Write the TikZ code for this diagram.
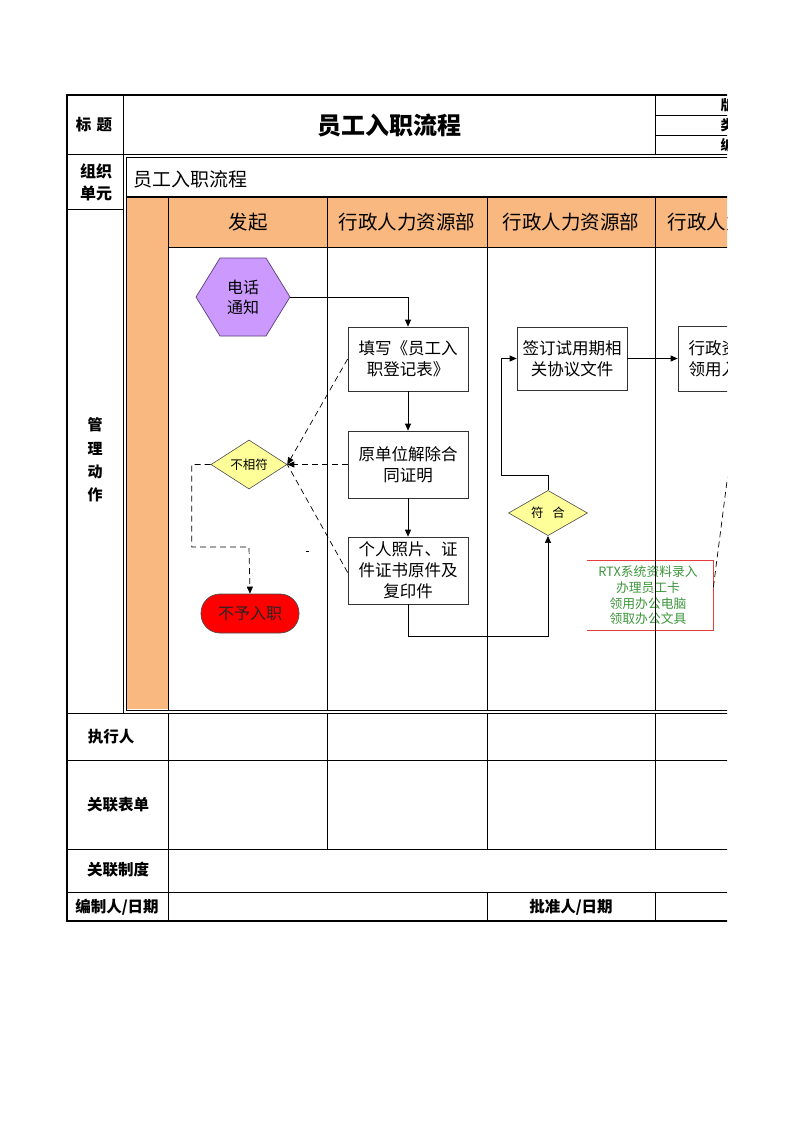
\documentclass[tikz,border=0pt]{standalone}
\usepackage{fontspec}
\newfontfamily\cjk{Noto Sans CJK SC}
\usetikzlibrary{arrows.meta,shapes.geometric,calc}
\definecolor{org}{RGB}{248,184,128}
\definecolor{purp}{RGB}{204,153,255}
\definecolor{purpline}{RGB}{90,60,120}
\definecolor{ylw}{RGB}{255,255,153}
\definecolor{rtxgreen}{RGB}{60,150,60}
\definecolor{rtxred}{RGB}{230,60,60}
\begin{document}
\begin{tikzpicture}[x=1pt,y=-1pt,line width=0.8pt,
  every node/.style={font=\cjk},
  thickframe/.style={line width=2pt},
  lbl/.style={font=\cjk\bfseries\fontsize{15.5}{20}\selectfont, align=center},
  lane/.style={font=\cjk\fontsize{19.5}{23}\selectfont},
  procbox/.style={draw=black!80, line width=0.7pt, fill=white, minimum width=120, minimum height=64, inner sep=2pt, align=center, font=\cjk\fontsize{16.5}{21}\selectfont},
  decision/.style={diamond, draw=black!70, line width=0.6pt, fill=ylw, inner sep=0pt, font=\cjk\fontsize{12.5}{14}\selectfont},
  arr/.style={-{Triangle[length=7pt,width=6pt]}, line width=0.7pt},
  darr/.style={-{Triangle[length=7pt,width=6pt]}, line width=0.7pt, dash pattern=on 6pt off 4pt},
  dline/.style={line width=0.7pt, dash pattern=on 6pt off 4pt}]
\useasboundingbox (0,0) rectangle (793,1122);
\begin{scope}
\clip (0,0) rectangle (727,1122);
% fills
\fill[org] (127,197) rectangle (745,247);
\fill[org] (127,247) rectangle (168,709);
% outer frame
\draw[thickframe] (66,95) -- (745,95);
\draw[thickframe] (67,94) -- (67,922);
\draw[thickframe] (66,921) -- (745,921);
% header grid
\draw (123,95) -- (123,713);
\draw (655,95) -- (655,154);
\draw (655,115) -- (745,115);
\draw (655,135) -- (745,135);
\draw (67,154) -- (745,154);
\draw (67,209) -- (123,209);
% inner frame
\draw (126,157) rectangle (750,710);
\draw[line width=1.4pt] (126,197) -- (745,197);
\draw (168,247) -- (745,247);
\foreach \x in {168,327,487,655} \draw (\x,197) -- (\x,710);
% bottom grid
\draw (67,713) -- (745,713);
\draw (67,760) -- (745,760);
\draw (67,849) -- (745,849);
\draw (67,892) -- (745,892);
\draw (168,713) -- (168,921);
\foreach \x in {327,487,655} \draw (\x,713) -- (\x,849);
\draw (487,892) -- (487,921);
\draw (655,892) -- (655,921);

% labels
\node[lbl] (tlbl) at (94,125) {标\hspace{0.35em}题};
\node[font=\cjk\bfseries\fontsize{24}{28}\selectfont] (title) at (389,125) {员工入职流程};
\node[font=\cjk\bfseries\fontsize{14}{16}\selectfont, anchor=west] (h1) at (717,105) {版本号};
\node[font=\cjk\bfseries\fontsize{14}{16}\selectfont, anchor=west] (h2) at (717,125) {类别};
\node[font=\cjk\bfseries\fontsize{14}{16}\selectfont, anchor=west] (h3) at (717,145) {编号};
\node[lbl, font=\cjk\bfseries\fontsize{16}{22}\selectfont] (org) at (96,182) {组织\\单元};
\node[font=\cjk\fontsize{19}{22}\selectfont, anchor=west] (orgname) at (130,179) {员工入职流程};
\node[lbl, font=\cjk\bfseries\fontsize{15}{23.3}\selectfont] (mgmt) at (95,460) {管\\理\\动\\作};
\node[lane] (l1) at (248,222) {发起};
\node[lane] (l2) at (407,222) {行政人力资源部};
\node[lane] (l3) at (571,222) {行政人力资源部};
\node[lane, anchor=west] (l4) at (664,222) {行政人力资源部};
\node[lbl] (r1) at (111,737) {执行人};
\node[lbl] (r2) at (118,805) {关联表单};
\node[lbl] (r3) at (118,870) {关联制度};
\node[lbl] (r4) at (117,907) {编制人/日期};
\node[lbl] (r5) at (571,907) {批准人/日期};

% hexagon
\filldraw[fill=purp, draw=purpline, line width=0.7pt] (196,297) -- (220,258) -- (266,258) -- (290,297) -- (266,336) -- (220,336) -- cycle;
\node[minimum width=94, minimum height=78, inner sep=0pt, align=center, font=\cjk\fontsize{16}{20}\selectfont] (tel) at (243,297) {电话\\通知};

% process boxes
\node[procbox] (fill) at (408,359) {填写《员工入\\职登记表》};
\node[procbox, minimum height=67] (cert) at (408,464.5) {原单位解除合\\同证明};
\node[procbox, minimum height=67] (photo) at (408,570.5) {个人照片、证\\件证书原件及\\复印件};
\node[procbox, minimum width=110, minimum height=63] (sign) at (572,358.5) {签订试用期相\\关协议文件};
\node[procbox, minimum height=65] (adm) at (738,358.5) {行政资产管理\\领用入职物品};

% decisions
\node[decision, minimum width=79, minimum height=42] (ok) at (548,513) {符\hspace{0.7em}合};
\node[decision, minimum width=76, minimum height=43] (nm) at (249,464.5) {不相符};

% terminal
\node[draw=black!70, line width=0.7pt, fill=red, rounded corners=19pt, minimum width=98, minimum height=39, inner sep=0pt, font=\cjk\fontsize{16}{18}\selectfont, text=black!85] (no) at (250,613.5) {不予入职};

% RTX note
\node[minimum width=126, minimum height=69, inner sep=0pt, align=center, text=rtxgreen, font=\cjk\fontsize{12.8}{15.7}\selectfont] (rtx) at (648,595.5) {RTX系统资料录入\\办理员工卡\\领用办公电脑\\领取办公文具};
\draw[rtxred, line width=0.8pt] ([xshift=2pt]rtx.north west) -- ([xshift=2pt]rtx.north east) -- ([xshift=2pt]rtx.south east) -- ([xshift=2pt]rtx.south west);

% lane divider drawn again over note
\draw (655,540) -- (655,650);

% connectors
\draw[arr] (tel.east) -| (fill.north);
\draw[arr] (fill.south) -- (cert.north);
\draw[arr] (cert.south) -- (photo.north);
\draw[arr] (photo.south) -- ++(0,32) -| (ok.south);
\draw[arr] (ok.north) -- ++(0,-15) -| ([xshift=-15pt]sign.west) -- (sign.west);
\draw[arr] (sign.east) -- (adm.west);
\draw[darr] (fill.west) -- (nm.east);
\draw[darr] (cert.west) -- (nm.east);
\draw[dline] ([yshift=-2pt]photo.west) -- (nm.east);
\coordinate (b1) at (249,547);
\draw[darr] (nm.west) -- ++(-19,0) |- (b1) -- (no.north);
\coordinate (rtxend) at (731,450);
\draw[dline] ([xshift=2pt,yshift=8.5pt]rtx.east) -- (rtxend);
\draw[line width=0.6pt] (306,551) -- (309,551);
\end{scope}
\end{tikzpicture}
\end{document}
